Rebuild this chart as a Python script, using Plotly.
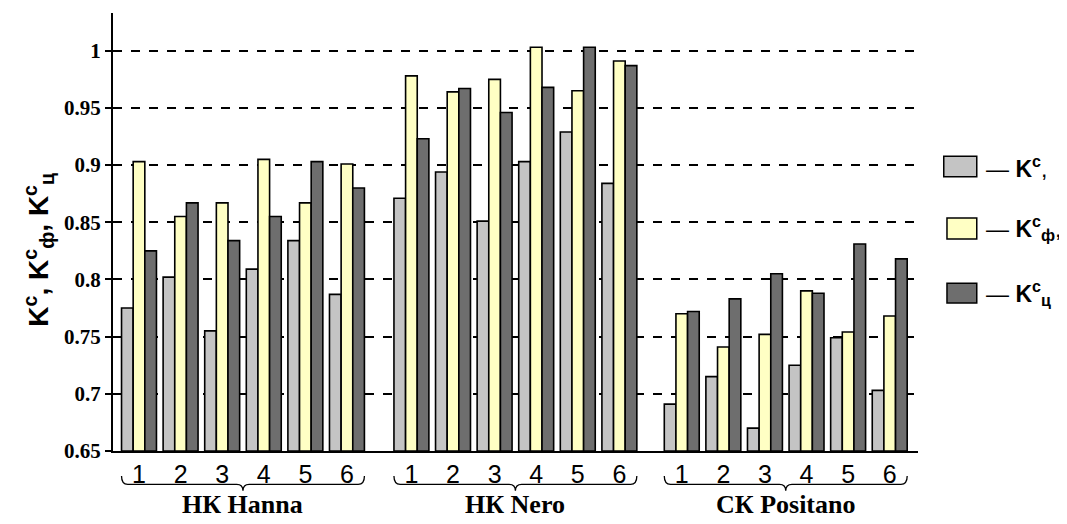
import plotly.graph_objects as go

groups = ["НК Hanna", "НК Nero", "СК Positano"]
items = ["1", "2", "3", "4", "5", "6"]
group_start = [0.0, 6.55, 13.05]

k_c = [0.775, 0.802, 0.755, 0.809, 0.834, 0.787,
       0.871, 0.894, 0.851, 0.903, 0.929, 0.884,
       0.691, 0.715, 0.670, 0.725, 0.749, 0.703]
k_f = [0.903, 0.855, 0.867, 0.905, 0.867, 0.901,
       0.978, 0.964, 0.975, 1.003, 0.965, 0.991,
       0.770, 0.741, 0.752, 0.790, 0.754, 0.768]
k_ts = [0.825, 0.867, 0.834, 0.855, 0.903, 0.880,
        0.923, 0.967, 0.946, 0.968, 1.003, 0.987,
        0.772, 0.783, 0.805, 0.788, 0.831, 0.818]

series_names = ["K<sup>c</sup>", "K<sup>c</sup><sub>ф</sub>", "K<sup>c</sup><sub>ц</sub>"]
series_vals = [k_c, k_f, k_ts]
series_colors = ["#c4c4c4", "#ffffc4", "#6e6e6e"]

xpos = []
ticktext = []
for gs in group_start:
    for i, it in enumerate(items):
        xpos.append(gs + i)
        ticktext.append(it)

bw = 0.28
offsets = [-1.5 * bw, -0.5 * bw, 0.5 * bw]

fig = go.Figure()
for name, vals, col, off in zip(series_names, series_vals, series_colors, offsets):
    fig.add_trace(go.Bar(
        x=xpos, y=[v - 0.65 for v in vals], base=0.65, width=bw, offset=off,
        name=name, marker=dict(color=col, line=dict(color="black", width=1.6)),
        showlegend=False))

fig.update_layout(
    width=1067, height=524,
    margin=dict(l=105, r=157, t=5, b=81),
    paper_bgcolor="white", plot_bgcolor="white",
    barmode="overlay",
    xaxis=dict(range=[-0.625, 18.73], tickvals=xpos, ticktext=ticktext,
               showgrid=False, zeroline=False, showline=True, linecolor="black",
               linewidth=2, ticks="", ticklen=0,
               tickfont=dict(family="Liberation Sans", size=25, color="black")),
    yaxis=dict(range=[0.65, 1.033], tickvals=[0.65, 0.7, 0.75, 0.8, 0.85, 0.9, 0.95, 1.0],
               ticktext=["0.65", "0.7", "0.75", "0.8", "0.85", "0.9", "0.95", "1"],
               showgrid=True, gridcolor="black", gridwidth=1.5, griddash="dash",
               zeroline=False, showline=True, linecolor="black", linewidth=2,
               ticks="outside", ticklen=6, tickwidth=1.5, tickcolor="black",
               tickfont=dict(family="Liberation Serif", size=21, color="black", weight="bold")),
    font=dict(family="Liberation Sans", size=14, color="black"),
)

# y-axis title
fig.add_annotation(xref="paper", yref="paper", x=-0.093, y=0.46, textangle=-90,
                   text="<b>K<sup>c</sup>, K<sup>c</sup><sub>ф</sub>, K<sup>c</sup><sub>ц</sub></b>",
                   showarrow=False, font=dict(family="Liberation Sans", size=28, color="black"),
                   xanchor="center", yanchor="middle")

# braces and group labels
y_top, y_mid, y_bot = -0.057, -0.076, -0.091
for g, gs in zip(groups, group_start):
    xl = gs - 0.42
    xr = gs + len(items) - 1 + 0.42
    xc = (xl + xr) / 2
    a = 0.15
    path = (f"M {xl},{y_top} Q {xl},{y_mid} {xl+a},{y_mid} L {xc-a},{y_mid} "
            f"Q {xc},{y_mid} {xc},{y_bot} Q {xc},{y_mid} {xc+a},{y_mid} "
            f"L {xr-a},{y_mid} Q {xr},{y_mid} {xr},{y_top}")
    fig.add_shape(type="path", path=path, xref="x", yref="paper",
                  line=dict(color="black", width=1.3))
    fig.add_annotation(xref="x", yref="paper", x=xc, y=-0.123, text=f"<b>{g}</b>",
                       showarrow=False, yanchor="middle",
                       font=dict(family="Liberation Serif", size=26, color="black"))

# custom legend
leg_y = [(0.673, 0.626), (0.532, 0.484), (0.383, 0.338)]
leg_x = [(1.032, 1.073), (1.036, 1.073), (1.036, 1.073)]
for (y1, y0), (x0, x1), col, name in zip(leg_y, leg_x, series_colors, series_names):
    fig.add_shape(type="rect", xref="paper", yref="paper", x0=x0, x1=x1, y0=y0, y1=y1,
                  fillcolor=col, line=dict(color="black", width=1.5))
    fig.add_annotation(xref="paper", yref="paper", x=1.082, y=(y0 + y1) / 2,
                       text=f"— <b>{name}</b>" + ("," if name != series_names[2] else ""),
                       showarrow=False, xanchor="left", yanchor="middle",
                       font=dict(family="Liberation Sans", size=23, color="black"))

fig.write_html("out.html")
